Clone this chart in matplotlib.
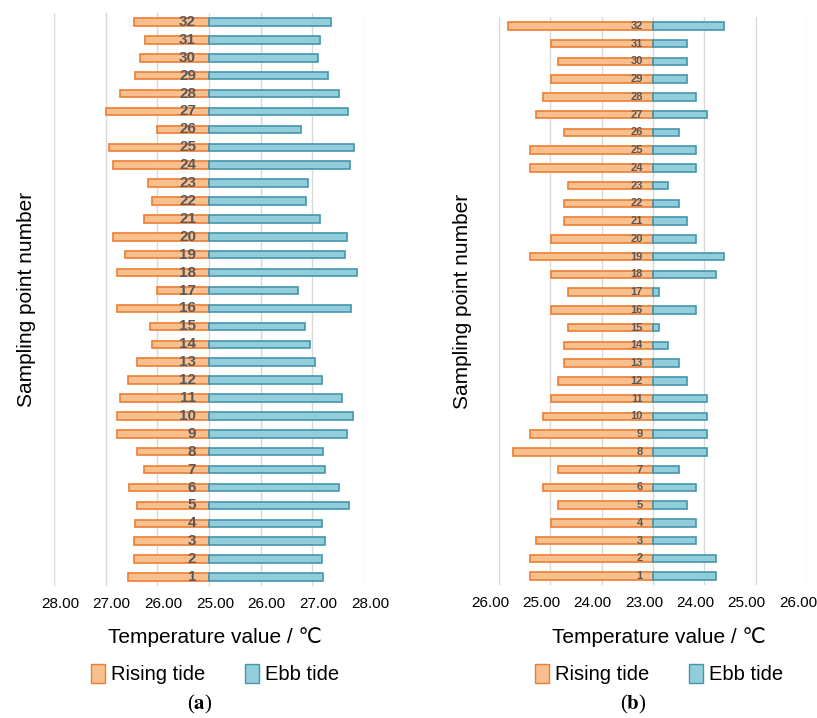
import matplotlib
matplotlib.use("Agg")
import matplotlib.pyplot as plt
from matplotlib.patches import Patch
from matplotlib.transforms import ScaledTranslation

points = list(range(1, 33))

# panel (a): centre 25.00
rising_a = [26.56, 26.46, 26.46, 26.43, 26.39, 26.54, 26.26, 26.39, 26.79, 26.79,
            26.72, 26.56, 26.39, 26.10, 26.14, 26.78, 26.01, 26.79, 26.62, 26.85,
            26.26, 26.10, 26.19, 26.85, 26.94, 26.01, 26.99, 26.72, 26.43, 26.34,
            26.23, 26.46]
ebb_a = [27.21, 27.19, 27.25, 27.19, 27.71, 27.52, 27.25, 27.21, 27.68, 27.79,
         27.58, 27.19, 27.05, 26.95, 26.86, 27.75, 26.73, 27.86, 27.64, 27.68,
         27.14, 26.88, 26.92, 27.72, 27.81, 26.79, 27.70, 27.52, 27.30, 27.10,
         27.14, 27.36]

# panel (b): centre 23.00
rising_b = [25.40, 25.40, 25.28, 24.98, 24.85, 25.14, 24.85, 25.72, 25.40, 25.14,
            24.98, 24.85, 24.74, 24.74, 24.66, 24.98, 24.66, 24.98, 25.40, 24.98,
            24.74, 24.74, 24.66, 25.40, 25.40, 24.74, 25.28, 25.14, 24.98, 24.85,
            24.98, 25.82]
ebb_b = [24.23, 24.23, 23.84, 23.84, 23.67, 23.84, 23.50, 24.06, 24.06, 24.06,
         24.06, 23.67, 23.50, 23.30, 23.12, 23.84, 23.12, 24.23, 24.38, 23.84,
         23.67, 23.50, 23.30, 23.84, 23.84, 23.50, 24.06, 23.84, 23.67, 23.67,
         23.67, 24.38]

FONT = ["Liberation Sans", "DejaVu Sans"]
RISE_FC, RISE_EC = "#f9c08f", "#ed7d31"
EBB_FC, EBB_EC = "#92cddc", "#4596ad"

plt.rcParams["mathtext.fontset"] = "stix"

fig = plt.figure(figsize=(8.17, 7.18), dpi=100)


def draw_panel(rect, centre, rising, ebb, num_size, num_off, tick_shift,
               tag, tag_x, ylab_x):
    ax = fig.add_axes(rect)
    left = [r - centre for r in rising]
    right = [e - centre for e in ebb]
    ax.barh(points, [-v for v in left], height=0.42, color=RISE_FC,
            edgecolor=RISE_EC, linewidth=1.2, zorder=3)
    ax.barh(points, right, height=0.42, color=EBB_FC,
            edgecolor=EBB_EC, linewidth=1.2, zorder=3)
    for p in points:
        ax.text(-num_off, p, str(p), ha="right", va="center", fontsize=num_size,
                fontweight="bold", color="#595959", family=FONT, zorder=4)
    ticks = list(range(-3, 4))
    ax.set_xlim(-3, 3)
    ax.set_ylim(0.5, 32.5)
    ax.set_xticks(ticks)
    ax.set_xticklabels([f"{abs(t) + centre:.2f}" for t in ticks],
                       family=FONT, fontsize=11)
    ax.tick_params(axis="x", length=0, pad=8)
    shift = ScaledTranslation(tick_shift / 100, 0, fig.dpi_scale_trans)
    for lab in ax.get_xticklabels():
        lab.set_transform(lab.get_transform() + shift)
    ax.set_yticks([])
    ax.grid(axis="x", color="#d9d9d9", linewidth=1.0)
    ax.set_axisbelow(True)
    for s in ax.spines.values():
        s.set_visible(False)

    x0, y0, w, h = rect
    cx = x0 + w / 2
    fig.text(cx + 6 / 817, 1 - 637 / 718, "Temperature value / \u2103",
             ha="center", va="center", fontsize=15, family=FONT)
    fig.text(ylab_x, y0 + h / 2, "Sampling point number", rotation=90,
             ha="center", va="center", fontsize=15, family=FONT)
    handles = [Patch(facecolor=RISE_FC, edgecolor=RISE_EC, label="Rising tide"),
               Patch(facecolor=EBB_FC, edgecolor=EBB_EC, label="Ebb tide")]
    fig.legend(handles=handles, loc="center",
               bbox_to_anchor=(cx + 6 / 817, 1 - 674 / 718),
               ncol=2, frameon=False, prop={"family": FONT, "size": 14.5},
               handlelength=0.7, handleheight=1.1, handletextpad=0.3,
               columnspacing=2.0)
    fig.text(tag_x, 1 - 704 / 718, f"($\\mathbf{{{tag}}}$)", ha="center",
             va="center", fontsize=15, family="Liberation Serif")
    return ax


draw_panel([54 / 817, 1 - 586 / 718, 310 / 817, 573 / 718], 25.0,
           rising_a, ebb_a, 11, 0.25, 6, "a", 200 / 817, 27 / 817)
draw_panel([499 / 817, 1 - 585 / 718, 308 / 817, 568 / 718], 23.0,
           rising_b, ebb_b, 8, 0.2, -9, "b", 633 / 817, 463 / 817)

fig.savefig("out.png", dpi=100)
